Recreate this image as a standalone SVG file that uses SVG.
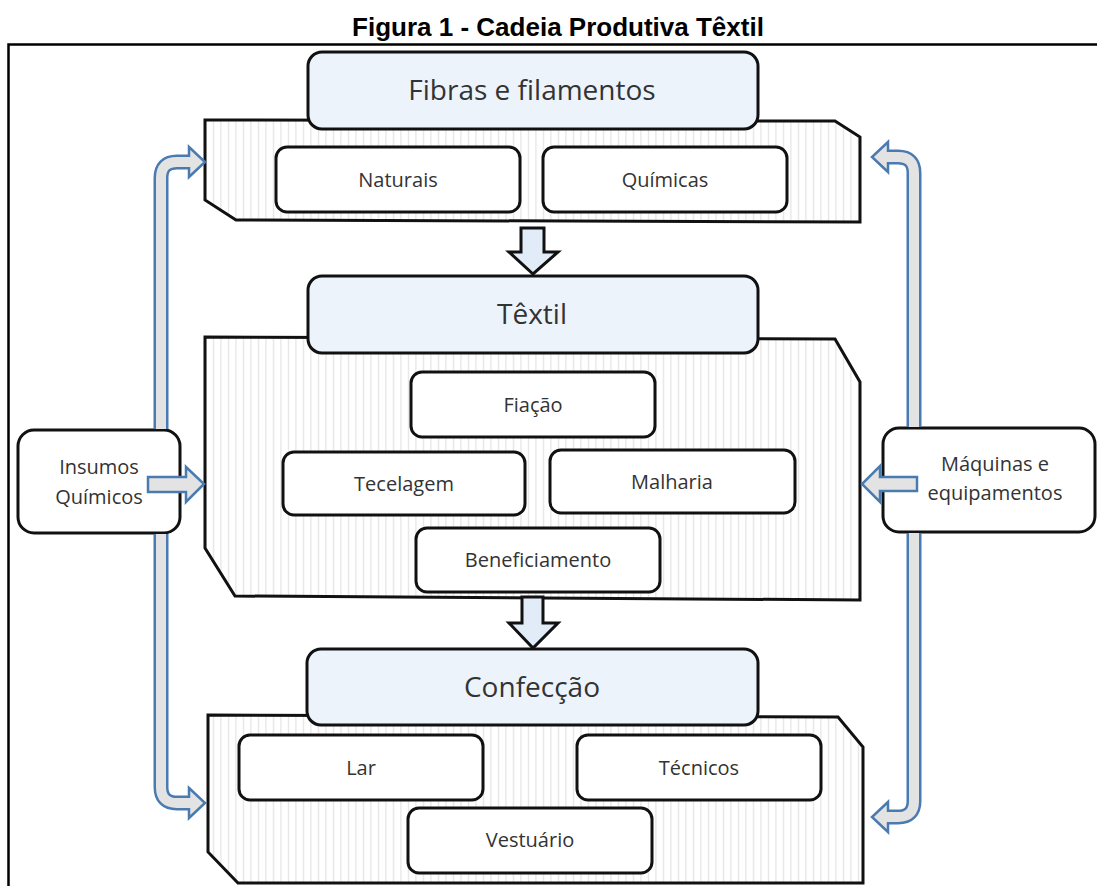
<svg xmlns="http://www.w3.org/2000/svg" width="1097" height="886" viewBox="0 0 1097 886">
<defs>
<pattern id="hatch" patternUnits="userSpaceOnUse" width="7.5" height="10">
<rect width="7.5" height="10" fill="#ffffff"/>
<line x1="3.5" y1="0" x2="3.5" y2="10" stroke="#dedede" stroke-width="1"/>
</pattern>
<style>
.title{font-family:"Liberation Sans",Arial,sans-serif;font-weight:bold;font-size:26px;fill:#000;text-anchor:middle}
.panel{fill:url(#hatch);stroke:#111;stroke-width:3;stroke-linejoin:miter}
.head{fill:#ecf3fb;stroke:#111;stroke-width:3}
.box{fill:#fff;stroke:#111;stroke-width:3}
.htxt{font-family:"Open Sans","Noto Sans",sans-serif;font-size:28px;fill:#333;text-anchor:middle}
.txt{font-family:"Open Sans","Noto Sans",sans-serif;font-size:20px;fill:#333;text-anchor:middle}
.down{fill:#e2ecf8;stroke:#111;stroke-width:3;stroke-linejoin:miter}
.pipeo{fill:none;stroke:#4a7bb0;stroke-width:15}
.pipei{fill:none;stroke:#e3e3e3;stroke-width:10}
.bhead{fill:#e3e3e3;stroke:#4a7bb0;stroke-width:2.5;stroke-linejoin:miter}
</style>
</defs>
<rect width="1097" height="886" fill="#fff"/>
<text class="title" x="558" y="36">Figura 1 - Cadeia Produtiva Têxtil</text>
<path d="M8.5 886 V44.5 H1097" fill="none" stroke="#000" stroke-width="2.5"/>

<g id="fibras">
<polygon class="panel" points="205,120 835,121 860,137 860,222 236,220 205,200"/>
<rect class="head" x="308" y="52" width="450" height="77" rx="14"/>
<text class="htxt" x="532" y="100">Fibras e filamentos</text>
</g>
<g id="naturais"><rect class="box" x="276" y="147" width="244" height="65" rx="11"/><text class="txt" x="398" y="187">Naturais</text></g>
<g id="quimicas"><rect class="box" x="543" y="147" width="244" height="65" rx="11"/><text class="txt" x="665" y="187">Químicas</text></g>

<g id="textil">
<polygon class="panel" points="205,337 835,339 860,382 860,600 235,596 205,548"/>
<rect class="head" x="308" y="276" width="450" height="77" rx="14"/>
<text class="htxt" x="532" y="324">Têxtil</text>
</g>
<g id="fiacao"><rect class="box" x="411" y="372" width="244" height="65" rx="11"/><text class="txt" x="533" y="412">Fiação</text></g>
<g id="tecelagem"><rect class="box" x="283" y="452" width="242" height="63" rx="11"/><text class="txt" x="404" y="491">Tecelagem</text></g>
<g id="malharia"><rect class="box" x="550" y="450" width="245" height="63" rx="11"/><text class="txt" x="672" y="489">Malharia</text></g>
<g id="beneficiamento"><rect class="box" x="416" y="528" width="244" height="64" rx="11"/><text class="txt" x="538" y="567">Beneficiamento</text></g>

<g id="confeccao">
<polygon class="panel" points="208,715 838,717 863,747 863,883 238,883 208,852"/>
<rect class="head" x="307" y="649" width="451" height="76" rx="14"/>
<text class="htxt" x="532" y="697">Confecção</text>
</g>
<g id="lar"><rect class="box" x="239" y="735" width="244" height="65" rx="11"/><text class="txt" x="361" y="775">Lar</text></g>
<g id="tecnicos"><rect class="box" x="577" y="735" width="244" height="65" rx="11"/><text class="txt" x="699" y="775">Técnicos</text></g>
<g id="vestuario"><rect class="box" x="408" y="808" width="244" height="65" rx="11"/><text class="txt" x="530" y="847">Vestuário</text></g>

<g id="insumos"><rect class="box" x="18" y="430" width="162" height="103" rx="16"/><text class="txt" x="99" y="474">Insumos</text><text class="txt" x="99" y="504">Químicos</text></g>
<g id="maquinas"><rect class="box" x="883" y="428" width="212" height="104" rx="16"/><text class="txt" x="995" y="471">Máquinas e</text><text class="txt" x="995" y="500">equipamentos</text></g>

<g id="connectors">
<polygon class="down" points="521,228 544,228 544,252 558,252 533,274 509,252 521,252"/>
<polygon class="down" points="522,597 543,597 543,623 558,623 533,648 509,623 522,623"/>

<path class="pipeo" d="M191 162 H177 Q161 162 161 178 V429"/>
<polygon class="bhead" points="189,147 205,162 189,177"/>
<path class="pipei" d="M192 162 H177 Q161 162 161 178 V429"/>

<path class="pipeo" d="M161 534 V787 Q161 803 177 803 H191"/>
<polygon class="bhead" points="189,788 205,803 189,818"/>
<path class="pipei" d="M161 534 V787 Q161 803 177 803 H192"/>

<path class="pipeo" d="M886 157 H898 Q914 157 914 173 V427"/>
<polygon class="bhead" points="888,142 872,157 888,172"/>
<path class="pipei" d="M885 157 H898 Q914 157 914 173 V427"/>

<path class="pipeo" d="M914 533 V801 Q914 817 898 817 H886"/>
<polygon class="bhead" points="888,802 872,817 888,832"/>
<path class="pipei" d="M914 533 V801 Q914 817 898 817 H885"/>

<polygon class="bhead" points="148,477 186,477 186,467 204,484 186,502 186,492 148,492"/>
<polygon class="bhead" points="917,477 880,477 880,466 862,484 880,502 880,491 917,491"/>
</g>
</svg>
